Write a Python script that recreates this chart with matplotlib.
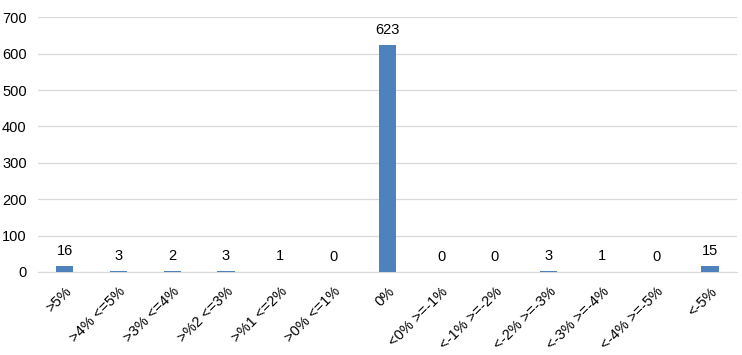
import matplotlib
matplotlib.use("Agg")
import matplotlib.pyplot as plt
import numpy as np

# ---- data -----------------------------------------------------------------
categories = [">5%", ">4% <=5%", ">3% <=4%", ">%2 <=3%", ">%1 <=2%", ">0% <=1%",
              "0%", "<0% >=-1%", "<-1% >=-2%", "<-2% >=-3%", "<-3% >=-4%",
              "<-4% >=-5%", "<-5%"]
counts = [16, 3, 2, 3, 1, 0, 623, 0, 0, 3, 1, 0, 15]
yticks = [0, 100, 200, 300, 400, 500, 600, 700]

plt.rcParams["font.family"] = ["Liberation Sans", "DejaVu Sans"]

fig = plt.figure(figsize=(7.42, 3.55), dpi=100)
ax = fig.add_axes([0.051, 0.234, 0.942, 0.717])

x = np.arange(len(categories))
ax.bar(x, counts, width=0.32, color="#4F81BD", zorder=3)

# value labels above each bar
for xi, v in zip(x, counts):
    ax.annotate(str(v), (xi, v), xytext=(0, 6), textcoords="offset points",
                ha="center", va="bottom", fontsize=10.5, color="#000000")

ax.set_xlim(-0.5, len(categories) - 0.5)
ax.set_ylim(0, 700)
ax.set_yticks(yticks)
ax.yaxis.grid(True, color="#D9D9D9", lw=0.9, zorder=0)
ax.set_axisbelow(True)

ax.set_xticks(x)
ax.set_xticklabels(categories, rotation=45, ha="right", rotation_mode="anchor",
                   fontsize=10.5)
ax.tick_params(axis="both", length=0, colors="#000000")
ax.tick_params(axis="y", labelsize=10.5, pad=8)
ax.tick_params(axis="x", pad=9)

for side in ("top", "right", "left"):
    ax.spines[side].set_visible(False)
ax.spines["bottom"].set_color("#D9D9D9")

fig.savefig("out.png", dpi=100)
